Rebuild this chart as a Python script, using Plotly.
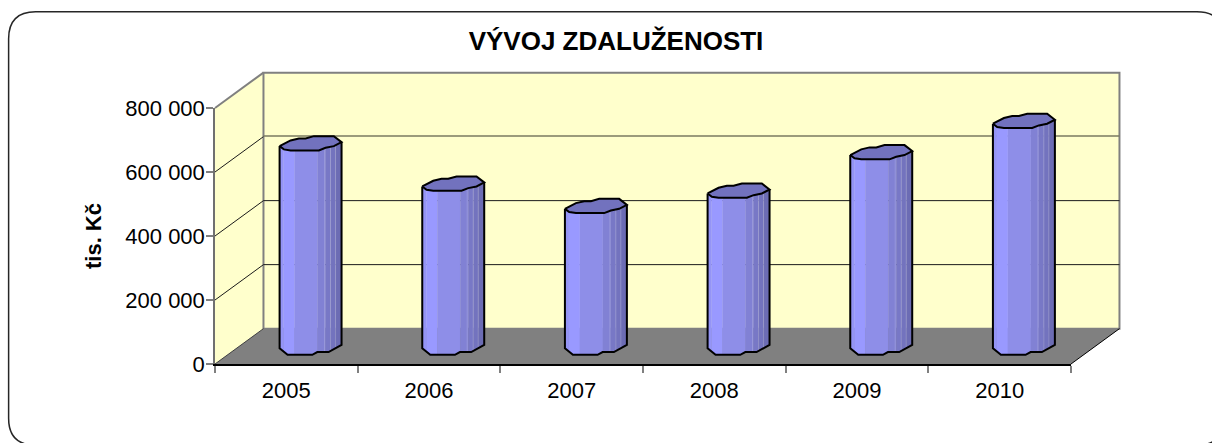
import numpy as np
import plotly.graph_objects as go

# --- data -----------------------------------------------------------------
years = ["2005", "2006", "2007", "2008", "2009", "2010"]
debt = [635000, 509000, 439000, 487000, 607000, 705000]
y_ticks = [0, 200000, 400000, 600000, 800000]
y_tick_labels = ["0", "200 000", "400 000", "600 000", "800 000"]
title_text = "VÝVOJ ZDALUŽENOSTI"
y_title = "tis. Kč"

# --- frame of the front plane, in pixels --------------------------------
W, H = 1212, 443
L, T, PW, PH = 214.5, 107.5, 856.5, 257.0
R, B = L + PW, T + PH
DX, DY = 48.5, 35.5          # depth of the box
Y_MAX = 800000
CAT_W = PW / len(years)

WALL = "#FFFFCC"
FLOOR = "#808080"
GREY = "#808080"
TOP_COL = "#7272BE"
FONT = "Liberation Sans, Arial, sans-serif"

# polygonal "cylinder" section, px offsets from the bar centre (y down)
RING = [(-31, 3), (-20, -2.7), (-11.7, -4.7), (-5, -4.7), (3.3, -7), (23.3, -7), (31, -1),
        (23.3, 3), (15, 4.7), (8.3, 7.3), (-20, 7.3), (-26.7, 6.3)]
TOP_FRONT = [(-31, 3), (-26.7, 6.3), (-20, 7.3), (8.3, 7.3), (15, 4.7), (23.3, 3), (31, -1)]
BOTTOM_FRONT = [(-31, 2), (-23, 8.5), (1.7, 8.5), (6.7, 5.8), (18, 5.8), (31, -1.5)]
STRIP_EDGES = [-31, -27, -16, 7, 15, 20, 25, 31]
STRIP_COLS = ["#9494F6", "#9999FF", "#8E8EE8", "#8181D4", "#7878C6", "#7373BE", "#6C6CB4"]
HAIRLINES = [14, 20, 25]


def px(p):
    return (p - L) / PW


def py(p):
    return (B - p) / PH


def to_x(i, off):
    return (i + 0.5) + (DX / 2 + off) / CAT_W


def to_y(val, off):
    return val + (DY / 2 - off) * Y_MAX / PH


def poly(points):
    return "M " + " L ".join(f"{px(a):.5f},{py(b):.5f}" for a, b in points) + " Z"


def interp(edge, q):
    return float(np.interp(q, [e[0] for e in edge], [e[1] for e in edge]))


fig = go.Figure()

# invisible real bars carry the category axis and the hover values
fig.add_trace(go.Bar(x=years, y=debt, marker=dict(opacity=0), hoverinfo="skip",
                     showlegend=False, xaxis="x", yaxis="y"))

# body strips (shaded vertical facets)
for k, col in enumerate(STRIP_COLS):
    a, b = STRIP_EDGES[k], STRIP_EDGES[k + 1]
    xs, ys = [], []
    for i, v in enumerate(debt):
        tq = sorted({a, b} | {e[0] for e in TOP_FRONT if a < e[0] < b})
        bq = sorted({a, b} | {e[0] for e in BOTTOM_FRONT if a < e[0] < b}, reverse=True)
        xs += [to_x(i, q) for q in tq] + [to_x(i, q) for q in bq] + [None]
        ys += [to_y(v, interp(TOP_FRONT, q)) for q in tq] + [to_y(0, interp(BOTTOM_FRONT, q)) for q in bq] + [None]
    fig.add_trace(go.Scatter(x=xs, y=ys, xaxis="x2", yaxis="y", mode="lines", fill="toself",
                             fillcolor=col, line=dict(width=0.6, color=col), hoverinfo="skip",
                             showlegend=False, cliponaxis=False))

# pale facet seams
xs, ys = [], []
for i, v in enumerate(debt):
    for q in HAIRLINES:
        xs += [to_x(i, q), to_x(i, q), None]
        ys += [to_y(v, interp(TOP_FRONT, q)), to_y(0, interp(BOTTOM_FRONT, q)), None]
fig.add_trace(go.Scatter(x=xs, y=ys, xaxis="x2", yaxis="y", mode="lines",
                         line=dict(width=1, color="rgba(205,205,235,0.3)"), hoverinfo="skip",
                         showlegend=False, cliponaxis=False))

# top faces
xs, ys = [], []
for i, v in enumerate(debt):
    closed = RING + RING[:1]
    xs += [to_x(i, p[0]) for p in closed] + [None]
    ys += [to_y(v, p[1]) for p in closed] + [None]
fig.add_trace(go.Scatter(x=xs, y=ys, xaxis="x2", yaxis="y", mode="lines", fill="toself",
                         fillcolor=TOP_COL, line=dict(width=2, color="black", shape="linear"),
                         hoverinfo="skip", showlegend=False, cliponaxis=False))

# silhouettes
xs, ys = [], []
for i, v in enumerate(debt):
    lft, rgt = TOP_FRONT[0], TOP_FRONT[-1]
    xs += [to_x(i, lft[0])] + [to_x(i, p[0]) for p in BOTTOM_FRONT] + [to_x(i, rgt[0])] + [None]
    ys += [to_y(v, lft[1])] + [to_y(0, p[1]) for p in BOTTOM_FRONT] + [to_y(v, rgt[1])] + [None]
fig.add_trace(go.Scatter(x=xs, y=ys, xaxis="x2", yaxis="y", mode="lines",
                         line=dict(width=2, color="black"), hoverinfo="skip",
                         showlegend=False, cliponaxis=False))

# --- box: walls, floor, gridlines, outer frame ----------------------------
shapes = []
# outer rounded frame (runs off the page on the right and at the bottom)
fx0, fy0, fx1, fy1, r = 8, 11, 1224, 446, 27
frame = (f"M {px(fx0+r):.5f},{py(fy0):.5f} L {px(fx1-r):.5f},{py(fy0):.5f} "
         f"Q {px(fx1):.5f},{py(fy0):.5f} {px(fx1):.5f},{py(fy0+r):.5f} "
         f"L {px(fx1):.5f},{py(fy1-r):.5f} Q {px(fx1):.5f},{py(fy1):.5f} {px(fx1-r):.5f},{py(fy1):.5f} "
         f"L {px(fx0+r):.5f},{py(fy1):.5f} Q {px(fx0):.5f},{py(fy1):.5f} {px(fx0):.5f},{py(fy1-r):.5f} "
         f"L {px(fx0):.5f},{py(fy0+r):.5f} Q {px(fx0):.5f},{py(fy0):.5f} {px(fx0+r):.5f},{py(fy0):.5f} Z")
shapes.append(dict(type="path", path=frame, xref="paper", yref="paper", layer="below",
                   line=dict(color="#262626", width=1.5)))
# side wall
shapes.append(dict(type="path", xref="paper", yref="paper", layer="below",
                   path=poly([(L, B), (L + DX, B - DY), (L + DX, T - DY), (L, T)]),
                   fillcolor=WALL, line=dict(width=0)))
# back wall
shapes.append(dict(type="path", xref="paper", yref="paper", layer="below",
                   path=poly([(L + DX, B - DY), (R + DX, B - DY), (R + DX, T - DY), (L + DX, T - DY)]),
                   fillcolor=WALL, line=dict(color=GREY, width=2)))
# gridlines on side and back wall
for tv in y_ticks[1:-1]:
    yp = B - tv / Y_MAX * PH
    col = "#7a7a60" if tv == 600000 else "#1a1a1a"
    shapes.append(dict(type="path", xref="paper", yref="paper", layer="below",
                       path="M " + " L ".join(f"{px(a):.5f},{py(b):.5f}" for a, b in
                                              [(L, yp), (L + DX, yp - DY)]),
                       line=dict(color="#1a1a1a", width=1)))
    shapes.append(dict(type="line", xref="paper", yref="paper", layer="below",
                       x0=px(L + DX), y0=py(yp - DY - (0.75 if tv == 600000 else 0)),
                       x1=px(R + DX), y1=py(yp - DY - (0.75 if tv == 600000 else 0)),
                       line=dict(color=col, width=1.5 if tv == 600000 else 1)))
# top edge of the side wall
shapes.append(dict(type="line", xref="paper", yref="paper", layer="below",
                   x0=px(L), y0=py(T), x1=px(L + DX), y1=py(T - DY),
                   line=dict(color=GREY, width=2)))
# floor
shapes.append(dict(type="path", xref="paper", yref="paper", layer="below",
                   path=poly([(L, B), (L + DX, B - DY), (R + DX, B - DY), (R, B)]),
                   fillcolor=FLOOR, line=dict(width=0)))
shapes.append(dict(type="line", xref="paper", yref="paper", layer="below",
                   x0=px(L), y0=py(B), x1=px(L + DX), y1=py(B - DY),
                   line=dict(color="#404040", width=1)))
shapes.append(dict(type="line", xref="paper", yref="paper", layer="below",
                   x0=px(R), y0=py(B), x1=px(R + DX), y1=py(B - DY),
                   line=dict(color="black", width=1)))

fig.update_layout(
    width=W, height=H,
    margin=dict(l=L, r=W - R, t=T, b=H - B, pad=0, autoexpand=False),
    paper_bgcolor="white", plot_bgcolor="rgba(0,0,0,0)",
    font=dict(family=FONT, color="black", size=22),
    showlegend=False, shapes=shapes,
    title=dict(text=f"<b>{title_text}</b>", x=616 / W, xanchor="center", xref="container",
               y=1 - 50 / H, yanchor="bottom", yref="container", pad=dict(t=0, b=0),
               font=dict(family=FONT, size=26, color="black")),
    xaxis=dict(type="category", categoryorder="array", categoryarray=years,
               range=[-0.5, 5.5], tickson="boundaries", ticks="outside", ticklen=7,
               tickcolor=GREY, tickwidth=1.5, showgrid=False, zeroline=False,
               showline=True, linecolor="black", linewidth=1.5, ticklabelstandoff=6,
               tickfont=dict(family=FONT, size=22)),
    xaxis2=dict(overlaying="x", range=[0, 6], visible=False, anchor="y"),
    yaxis=dict(range=[0, Y_MAX], tickmode="array", tickvals=y_ticks, ticktext=y_tick_labels,
               ticks="outside", ticklen=7, tickcolor=GREY, tickwidth=1.5, showgrid=False,
               zeroline=False, showline=True, linecolor="#707070", linewidth=1.5,
               ticklabelstandoff=-3,
               tickfont=dict(family=FONT, size=22),
               title=dict(text=f"<b>{y_title}</b>", standoff=18,
                          font=dict(family=FONT, size=22))),
)

fig.write_html("out.html", config=dict(displayModeBar=False),
               post_script="document.body.style.margin='0';document.body.style.overflow='hidden';")
